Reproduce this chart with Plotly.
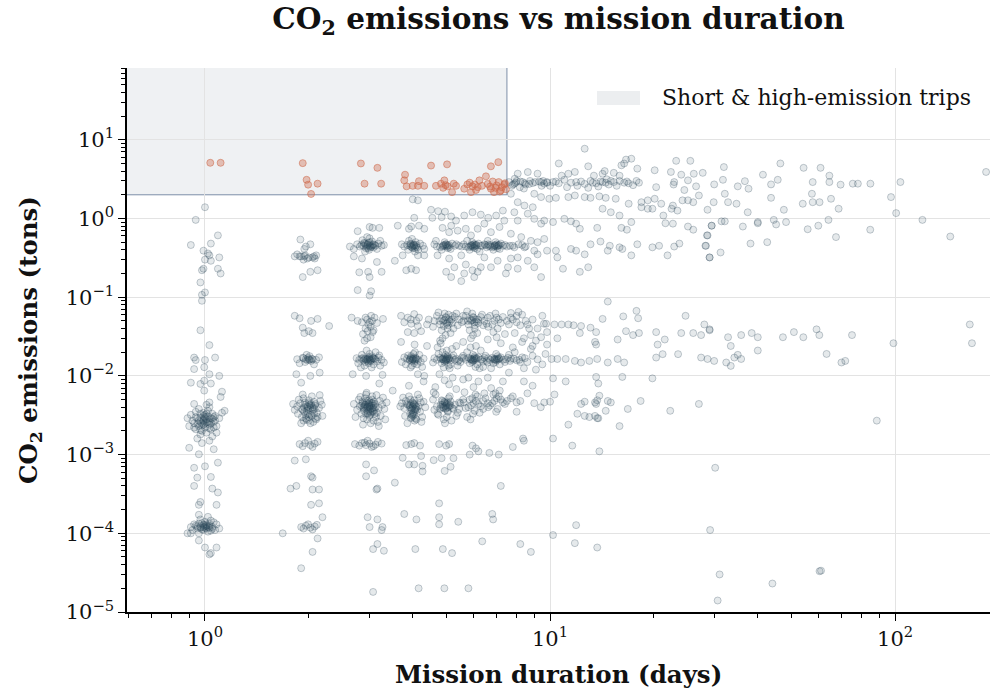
import plotly.graph_objects as go

# ---------------- data (duration in days, CO2 in tons) ----------------
day1 = [
    (1.036, 5.1), (1.11, 5.1),
    (1.00, 1.39), (0.94, 0.96), (1.09, 0.61), (0.91, 0.46), (1.04, 0.48), (0.99, 0.39), (1.02, 0.36),
    (1.03, 0.34), (1.04, 0.29), (1.00, 0.30), (1.10, 0.32), (1.11, 0.20), (1.09, 0.23), (0.98, 0.22),
    (0.99, 0.23), (0.97, 0.154), (1.00, 0.115), (0.98, 0.107), (0.98, 0.090),
    (0.97, 0.038), (1.03, 0.0246), (0.93, 0.0171), (0.94, 0.0159), (1.00, 0.0159), (1.07, 0.0171),
    (0.93, 0.0122), (0.995, 0.0129), (1.03, 0.0105), (1.10, 0.0100), (0.995, 0.0087), (0.97, 0.0079),
    (1.04, 0.0080), (0.91, 0.0082), (1.12, 0.0063), (1.11, 0.0054), (0.995, 0.0065), (1.03, 0.0046),
    (0.93, 0.0044), (1.14, 0.0036),
    (0.97, 2.6e-3), (1.01, 2.8e-3), (0.99, 3.1e-3), (1.03, 2.4e-3), (0.95, 2.9e-3), (1.05, 3.3e-3),
    (0.93, 2.5e-3), (1.00, 2.2e-3), (1.02, 3.6e-3), (0.98, 2.0e-3), (1.07, 2.7e-3), (0.91, 3.2e-3),
    (1.04, 2.1e-3), (0.96, 3.8e-3), (1.08, 2.3e-3), (0.94, 2.1e-3), (1.01, 1.9e-3), (0.99, 3.4e-3),
    (1.06, 3.0e-3), (0.92, 2.7e-3), (1.03, 4.0e-3), (0.97, 1.8e-3), (1.10, 2.9e-3), (0.90, 2.3e-3),
    (1.00, 3.0e-3), (0.98, 2.5e-3), (1.02, 2.6e-3), (1.05, 1.7e-3), (0.95, 1.6e-3), (1.01, 4.3e-3),
    (0.96, 2.3e-3), (1.04, 2.9e-3), (0.99, 2.7e-3), (1.12, 3.4e-3), (0.89, 2.9e-3), (1.03, 1.5e-3),
    (0.97, 3.3e-3), (1.00, 2.5e-3), (1.06, 2.2e-3), (0.94, 3.5e-3), (0.98, 1.4e-3), (1.08, 1.9e-3),
    (0.99, 2.75e-3), (1.01, 2.55e-3), (0.97, 2.95e-3), (1.03, 2.65e-3), (0.95, 2.45e-3), (1.05, 2.85e-3),
    (1.00, 3.2e-3), (0.98, 2.35e-3), (1.02, 3.05e-3), (0.96, 2.7e-3), (1.04, 2.5e-3), (0.94, 3.0e-3),
    (1.06, 2.6e-3), (1.00, 2.9e-3), (0.99, 2.4e-3), (1.01, 3.3e-3), (0.93, 2.2e-3), (1.07, 3.1e-3),
    (0.97, 2.05e-3), (1.03, 2.15e-3),
    (0.90, 1.22e-3), (1.06, 1.17e-3), (0.96, 1.01e-3), (1.09, 7.9e-4), (0.93, 6.8e-4), (1.00, 7.1e-4),
    (0.95, 5.1e-4), (1.04, 5.2e-4), (0.93, 4.0e-4), (1.05, 3.7e-4), (1.09, 3.3e-4), (0.96, 2.3e-4),
    (1.08, 2.3e-4), (0.97, 2.5e-4),
    (0.97, 1.2e-4), (1.01, 1.3e-4), (0.99, 1.1e-4), (1.03, 1.25e-4), (0.95, 1.15e-4), (1.05, 1.2e-4),
    (0.93, 1.3e-4), (1.00, 1.4e-4), (1.02, 1.05e-4), (0.98, 1.35e-4), (1.07, 1.1e-4), (0.91, 1.2e-4),
    (1.04, 1.45e-4), (0.96, 1.0e-4), (1.08, 1.3e-4), (0.94, 1.25e-4), (1.01, 1.15e-4), (0.99, 1.28e-4),
    (1.06, 1.38e-4), (0.92, 1.1e-4), (1.03, 1.18e-4), (0.97, 1.5e-4), (1.10, 1.15e-4), (0.89, 1.0e-4),
    (1.00, 1.22e-4), (1.02, 1.62e-4), (0.96, 1.72e-4),
    (0.99, 1.2e-4), (1.01, 1.24e-4), (0.97, 1.17e-4), (1.03, 1.32e-4), (0.95, 1.22e-4), (1.05, 1.14e-4),
    (1.00, 1.27e-4), (0.98, 1.12e-4), (1.02, 1.2e-4), (0.96, 1.33e-4), (1.04, 1.08e-4), (1.00, 1.17e-4),
    (0.91, 1.0e-4), (0.96, 8.1e-5), (1.00, 6.6e-5), (1.04, 5.6e-5), (1.08, 6.6e-5), (1.03, 5.4e-5),
]

day2 = [
    (1.92, 5.05), (1.97, 3.1), (1.99, 2.69), (2.12, 2.77), (2.03, 2.05),
    (1.89, 0.54), (1.96, 0.44), (2.02, 0.47), (1.94, 0.41), (1.82, 0.33), (1.88, 0.33), (1.94, 0.33),
    (2.07, 0.33), (1.98, 0.31), (2.05, 0.32), (2.08, 0.31), (1.92, 0.18), (2.02, 0.21), (2.12, 0.22),
    (1.90, 0.33), (1.95, 0.34), (2.00, 0.32), (1.85, 0.35), (2.10, 0.34), (1.93, 0.30),
    (1.82, 0.058), (1.88, 0.054), (2.03, 0.050), (2.12, 0.053), (1.92, 0.041), (2.00, 0.037),
    (1.94, 0.035), (2.05, 0.035), (2.29, 0.043),
    (1.85, 0.0163), (1.92, 0.0170), (1.98, 0.0158), (2.04, 0.0165), (2.10, 0.0160), (1.95, 0.0150),
    (2.01, 0.0178), (1.88, 0.0145), (2.14, 0.0172), (1.97, 0.0185), (2.07, 0.0140), (2.00, 0.0163),
    (1.96, 0.0163), (2.01, 0.0160), (1.93, 0.0168), (2.05, 0.0162), (1.99, 0.0170), (2.03, 0.0155),
    (1.84, 0.0105), (2.02, 0.0100), (2.15, 0.0110), (1.90, 0.0082),
    (1.98, 0.0040), (2.03, 0.0042), (1.91, 0.0038), (2.09, 0.0044), (1.85, 0.0041), (2.14, 0.0039),
    (1.95, 0.0046), (2.05, 0.0036), (2.00, 0.0049), (2.18, 0.0043), (1.82, 0.0037), (2.07, 0.0047),
    (1.89, 0.0045), (2.11, 0.0034), (2.01, 0.0032), (1.93, 0.0052), (2.16, 0.0048), (1.87, 0.0050),
    (2.12, 0.0030), (1.97, 0.0028), (2.04, 0.0055), (1.86, 0.0033), (2.19, 0.0031), (2.00, 0.0027),
    (1.80, 0.0044), (1.96, 0.0029), (2.06, 0.0026), (1.92, 0.0058), (2.02, 0.0025), (2.10, 0.0028),
    (1.94, 0.0035), (2.08, 0.0038), (1.99, 0.0033), (1.90, 0.0025), (2.15, 0.0057),
    (1.98, 0.0041), (2.02, 0.0039), (1.95, 0.0043), (2.05, 0.0040), (1.92, 0.0037), (2.08, 0.0042),
    (2.00, 0.0045), (1.97, 0.0036), (2.03, 0.0044), (1.94, 0.0040), (2.06, 0.0038), (1.99, 0.0038),
    (2.01, 0.0043), (1.96, 0.0032), (2.04, 0.0031), (1.91, 0.0030), (2.09, 0.0029), (2.00, 0.0030),
    (1.93, 0.0027), (2.07, 0.0033),
    (1.88, 1.36e-3), (1.95, 1.40e-3), (2.02, 1.32e-3), (2.08, 1.38e-3), (1.92, 1.28e-3), (2.12, 1.45e-3),
    (1.99, 1.50e-3), (2.05, 1.25e-3),
    (1.82, 8.4e-4), (1.96, 8.7e-4), (2.03, 5.3e-4), (2.05, 5.1e-4), (1.84, 4.0e-4), (1.77, 3.7e-4),
    (2.05, 3.6e-4), (2.14, 3.6e-4), (2.14, 2.4e-4), (2.03, 2.3e-4), (2.19, 1.6e-4),
    (1.90, 1.2e-4), (1.96, 1.25e-4), (2.02, 1.18e-4), (2.08, 1.22e-4), (1.99, 1.3e-4), (2.05, 1.12e-4),
    (1.93, 1.15e-4), (2.11, 1.28e-4),
    (1.68, 1.0e-4), (2.12, 8.6e-5), (2.05, 5.8e-5), (1.90, 3.6e-5),
]

day3 = [
    (2.83, 5.0), (3.16, 4.4), (2.90, 2.77), (3.24, 2.77),
    (2.77, 0.69), (3.00, 0.78), (3.06, 0.76), (3.20, 0.76), (2.63, 0.44),
    (2.96, 0.47), (3.02, 0.45), (2.89, 0.49), (3.10, 0.46), (2.81, 0.44), (3.18, 0.48), (2.93, 0.42),
    (3.05, 0.51), (2.99, 0.40), (3.25, 0.45), (2.76, 0.47), (3.08, 0.43), (2.86, 0.53), (3.15, 0.41),
    (3.00, 0.56), (2.91, 0.38), (3.22, 0.52), (2.70, 0.41), (3.30, 0.46), (2.95, 0.58),
    (2.96, 0.46), (3.00, 0.45), (2.92, 0.47), (3.04, 0.44), (2.88, 0.45), (3.08, 0.47), (2.98, 0.49),
    (3.02, 0.43), (2.94, 0.44), (3.06, 0.46), (2.90, 0.48), (3.12, 0.45), (2.84, 0.46), (3.00, 0.50),
    (2.97, 0.42),
    (2.80, 0.207), (2.97, 0.21), (3.25, 0.21), (3.00, 0.18), (2.77, 0.123), (3.03, 0.119), (3.00, 0.105),
    (2.85, 0.31), (3.15, 0.28), (2.70, 0.33),
    (2.66, 0.055), (2.77, 0.050), (2.92, 0.055), (3.03, 0.058), (3.00, 0.048), (3.15, 0.047),
    (2.96, 0.037), (3.06, 0.036), (2.87, 0.034), (3.28, 0.053), (2.95, 0.030), (3.02, 0.031), (2.90, 0.028),
    (2.95, 0.052), (3.05, 0.050), (2.85, 0.048), (3.10, 0.055), (2.98, 0.045), (3.02, 0.042),
    (2.92, 0.040), (3.08, 0.038),
    (2.95, 0.0163), (3.02, 0.0158), (2.88, 0.0170), (3.10, 0.0165), (2.80, 0.0160), (3.18, 0.0172),
    (2.92, 0.0150), (3.05, 0.0178), (2.98, 0.0145), (3.25, 0.0160), (2.75, 0.0168), (3.08, 0.0140),
    (2.85, 0.0185), (3.15, 0.0152), (3.00, 0.0190), (2.90, 0.0135), (3.20, 0.0182), (3.30, 0.0148),
    (2.78, 0.0145), (3.12, 0.0200), (2.94, 0.0210), (3.04, 0.0128), (2.83, 0.0128), (3.22, 0.0135),
    (3.00, 0.0166),
    (2.96, 0.0163), (3.00, 0.0160), (2.92, 0.0166), (3.04, 0.0162), (2.88, 0.0158), (3.08, 0.0167),
    (2.98, 0.0170), (3.02, 0.0155), (2.94, 0.0158), (3.06, 0.0169), (2.90, 0.0164), (3.12, 0.0161),
    (2.84, 0.0166), (3.00, 0.0174), (2.97, 0.0152),
    (2.68, 0.0105), (2.93, 0.0100), (3.27, 0.0103),
    (2.96, 0.0040), (3.03, 0.0042), (2.89, 0.0038), (3.11, 0.0044), (2.81, 0.0041), (3.19, 0.0039),
    (2.93, 0.0046), (3.06, 0.0036), (2.99, 0.0049), (3.26, 0.0043), (2.76, 0.0037), (3.09, 0.0047),
    (2.86, 0.0045), (3.15, 0.0034), (3.01, 0.0032), (2.91, 0.0052), (3.21, 0.0048), (3.31, 0.0038),
    (2.79, 0.0050), (3.13, 0.0030), (2.95, 0.0028), (3.05, 0.0055), (2.84, 0.0033), (3.23, 0.0031),
    (3.00, 0.0043), (2.70, 0.0044), (3.36, 0.0046), (2.97, 0.0035), (3.07, 0.0039), (2.88, 0.0029),
    (3.17, 0.0026), (2.93, 0.0058), (3.02, 0.0025), (2.82, 0.0054), (3.28, 0.0053), (2.99, 0.0041),
    (3.10, 0.0037), (2.90, 0.0043), (3.04, 0.0045), (2.96, 0.0033), (2.73, 0.0030), (3.33, 0.0028),
    (3.14, 0.0057), (2.87, 0.0024), (3.08, 0.0027), (2.94, 0.0061), (3.19, 0.0023),
    (2.96, 0.0041), (3.00, 0.0040), (2.92, 0.0043), (3.04, 0.0039), (2.88, 0.0040), (3.08, 0.0042),
    (2.98, 0.0044), (3.02, 0.0038), (2.94, 0.0039), (3.06, 0.0045), (2.90, 0.0041), (3.12, 0.0040),
    (2.84, 0.0042), (3.00, 0.0046), (2.97, 0.0037), (3.03, 0.0034), (2.93, 0.0033), (3.07, 0.0035),
    (2.89, 0.0036), (3.10, 0.0033), (2.99, 0.0031), (3.01, 0.0035), (2.95, 0.0048), (3.05, 0.0050),
    (2.86, 0.0047),
    (2.72, 1.36e-3), (2.85, 1.40e-3), (2.93, 1.32e-3), (3.00, 1.38e-3), (3.08, 1.28e-3), (3.17, 1.45e-3),
    (2.96, 1.50e-3), (3.04, 1.25e-3), (2.80, 1.30e-3), (3.25, 1.38e-3), (2.90, 1.42e-3), (3.12, 1.34e-3),
    (2.93, 7.5e-4), (3.09, 6.3e-4), (2.93, 5.3e-4), (3.16, 3.7e-4), (3.14, 3.6e-4), (2.96, 1.6e-4),
    (3.16, 1.5e-4), (3.00, 1.2e-4), (3.27, 1.2e-4), (3.25, 1.1e-4), (3.16, 7.3e-5), (3.07, 6.3e-5),
    (3.30, 6.0e-5), (3.07, 1.8e-5),
]

day4 = [
    (3.80, 3.6), (3.78, 3.05), (3.84, 2.56), (4.00, 2.6), (4.17, 2.98), (4.14, 2.6), (4.32, 2.6), (4.52, 4.7),
    (4.14, 1.70), (4.00, 1.75),
    (3.62, 0.81), (3.90, 0.74), (3.96, 0.79), (4.17, 0.81), (4.04, 1.02), (4.32, 0.74),
    (4.04, 0.45), (3.95, 0.47), (4.12, 0.43), (3.85, 0.46), (4.20, 0.48), (3.78, 0.44), (4.08, 0.50),
    (4.00, 0.42), (3.90, 0.52), (4.28, 0.45), (3.72, 0.47), (4.15, 0.40), (3.98, 0.55), (4.06, 0.38),
    (4.32, 0.41), (3.88, 0.40),
    (4.00, 0.45), (3.96, 0.44), (4.04, 0.46), (3.92, 0.45), (4.08, 0.44), (4.02, 0.47), (3.98, 0.43),
    (4.10, 0.46), (3.94, 0.48), (4.06, 0.42),
    (3.83, 0.22), (3.96, 0.23), (4.09, 0.22), (3.74, 0.34), (4.14, 0.34), (4.32, 0.34), (3.55, 0.29),
    (3.70, 0.058), (3.87, 0.055), (4.04, 0.061), (4.17, 0.055), (3.78, 0.048), (3.96, 0.046),
    (4.14, 0.043), (3.87, 0.036), (4.04, 0.035), (4.23, 0.037), (3.95, 0.052), (4.10, 0.050),
    (4.00, 0.0163), (3.92, 0.0158), (4.08, 0.0170), (3.85, 0.0165), (4.15, 0.0160), (3.78, 0.0172),
    (4.22, 0.0150), (3.96, 0.0178), (4.04, 0.0145), (3.88, 0.0182), (4.12, 0.0140), (4.30, 0.0166),
    (3.72, 0.0150), (4.02, 0.0190), (3.98, 0.0135), (4.18, 0.0185), (3.82, 0.0140), (4.06, 0.0200),
    (3.94, 0.0128), (4.26, 0.0130),
    (4.00, 0.0162), (3.96, 0.0166), (4.04, 0.0159), (3.92, 0.0161), (4.08, 0.0165), (4.02, 0.0168),
    (3.98, 0.0156), (4.10, 0.0163), (3.94, 0.0170), (4.06, 0.0154),
    (4.14, 0.0105), (4.32, 0.0100),
    (4.00, 0.0040), (3.92, 0.0042), (4.08, 0.0038), (3.85, 0.0044), (4.15, 0.0041), (3.78, 0.0039),
    (4.22, 0.0046), (3.96, 0.0036), (4.04, 0.0049), (3.88, 0.0043), (4.12, 0.0037), (4.30, 0.0047),
    (3.72, 0.0045), (4.02, 0.0034), (3.98, 0.0032), (4.18, 0.0052), (3.82, 0.0048), (4.06, 0.0038),
    (3.94, 0.0050), (4.26, 0.0030), (4.10, 0.0028), (3.90, 0.0055), (4.00, 0.0033), (3.80, 0.0031),
    (4.20, 0.0035), (4.05, 0.0027), (3.95, 0.0029), (4.35, 0.0040), (3.68, 0.0041), (4.14, 0.0058),
    (3.86, 0.0025), (4.03, 0.0044), (3.99, 0.0046), (4.24, 0.0026), (3.75, 0.0053),
    (4.00, 0.0041), (3.96, 0.0039), (4.04, 0.0043), (3.92, 0.0040), (4.08, 0.0042), (4.02, 0.0045),
    (3.98, 0.0037), (4.10, 0.0040), (3.94, 0.0044), (4.06, 0.0036), (4.00, 0.0031), (3.97, 0.0030),
    (4.03, 0.0032), (3.93, 0.0033), (4.07, 0.0029),
    (3.96, 1.36e-3), (4.04, 1.40e-3), (3.83, 1.32e-3), (4.20, 1.30e-3),
    (3.74, 9.1e-4), (3.90, 7.5e-4), (4.04, 7.5e-4), (4.23, 9.6e-4), (4.27, 7.2e-4), (4.27, 6.1e-4),
    (3.55, 4.4e-4), (3.78, 1.76e-4), (4.10, 1.5e-4), (4.07, 6.3e-5), (4.16, 2.0e-5),
]

day5 = [
    (4.83, 2.77), (4.94, 3.05), (4.67, 2.6), (5.05, 2.56), (5.26, 2.77), (5.20, 2.16), (5.03, 4.87),
    (5.34, 2.6), (4.90, 2.45), (4.98, 2.65),
    (4.52, 1.29), (4.74, 1.24), (4.96, 1.22), (4.56, 1.02), (4.85, 1.04), (5.17, 1.06), (5.34, 0.94),
    (5.17, 0.81), (4.88, 0.76), (5.10, 0.67), (5.40, 0.70), (4.67, 0.52),
    (4.90, 0.45), (5.00, 0.47), (4.80, 0.43), (5.10, 0.46), (4.70, 0.44), (5.20, 0.48), (4.95, 0.50),
    (5.05, 0.42), (4.85, 0.40), (5.30, 0.45), (4.62, 0.47), (5.15, 0.41),
    (4.96, 0.45), (5.02, 0.44), (4.92, 0.46), (5.06, 0.45), (4.88, 0.44), (5.10, 0.43), (4.98, 0.47),
    (5.04, 0.46),
    (4.72, 0.34), (5.10, 0.31), (5.28, 0.24), (5.17, 0.18), (5.00, 0.21),
    (4.90, 0.050), (5.00, 0.055), (4.80, 0.045), (5.10, 0.052), (4.70, 0.058), (5.20, 0.047),
    (4.95, 0.062), (5.05, 0.040), (4.85, 0.038), (5.30, 0.056), (4.62, 0.050), (5.15, 0.035),
    (4.98, 0.033), (5.40, 0.044), (4.75, 0.064), (5.08, 0.060), (4.88, 0.030), (5.25, 0.040),
    (4.58, 0.042), (5.02, 0.046),
    (4.94, 0.051), (5.04, 0.048), (4.86, 0.053), (5.12, 0.049), (4.98, 0.056), (5.18, 0.052),
    (4.78, 0.050), (5.06, 0.044), (4.92, 0.043), (5.22, 0.058),
    (4.90, 0.0163), (5.00, 0.0158), (4.80, 0.0170), (5.10, 0.0165), (4.70, 0.0160), (5.20, 0.0172),
    (4.95, 0.0150), (5.05, 0.0178), (4.85, 0.0145), (5.30, 0.0160), (4.62, 0.0168), (5.15, 0.0140),
    (4.98, 0.0185), (5.40, 0.0152), (4.75, 0.0190), (5.08, 0.0135), (4.88, 0.0200), (5.25, 0.0182),
    (4.58, 0.0148), (5.02, 0.0210), (4.92, 0.0128), (5.12, 0.0125), (4.72, 0.0230), (5.35, 0.0240),
    (4.82, 0.0260),
    (4.96, 0.0162), (5.02, 0.0166), (4.92, 0.0159), (5.06, 0.0161), (4.88, 0.0165), (5.10, 0.0168),
    (4.98, 0.0156), (5.04, 0.0170), (4.84, 0.0163), (5.14, 0.0157), (4.94, 0.0172), (5.00, 0.0164),
    (4.78, 0.0105), (5.22, 0.0095), (4.95, 0.0088), (5.10, 0.0078), (4.65, 0.0072), (5.35, 0.0068),
    (4.90, 0.0040), (5.00, 0.0042), (4.80, 0.0038), (5.10, 0.0044), (4.70, 0.0041), (5.20, 0.0039),
    (4.95, 0.0046), (5.05, 0.0036), (4.85, 0.0049), (5.30, 0.0043), (4.62, 0.0037), (5.15, 0.0047),
    (4.98, 0.0045), (5.40, 0.0034), (4.75, 0.0032), (5.08, 0.0052), (4.88, 0.0048), (5.25, 0.0038),
    (4.58, 0.0050), (5.02, 0.0030), (4.92, 0.0028), (5.12, 0.0055), (4.72, 0.0033), (5.35, 0.0031),
    (4.82, 0.0043), (5.18, 0.0027), (4.96, 0.0025), (5.45, 0.0046), (4.66, 0.0058), (5.06, 0.0035),
    (4.96, 0.0041), (5.02, 0.0044), (4.92, 0.0039), (5.06, 0.0040), (4.88, 0.0043), (5.10, 0.0041),
    (4.98, 0.0038), (5.04, 0.0046), (4.84, 0.0040), (5.14, 0.0042), (4.94, 0.0047), (5.00, 0.0039),
    (4.77, 1.36e-3), (5.10, 1.36e-3), (5.00, 1.30e-3),
    (4.85, 9.0e-4), (4.60, 8.5e-4), (5.25, 9.0e-4), (4.95, 6.2e-4), (5.15, 7.0e-4),
    (4.77, 2.4e-4), (4.77, 1.6e-4), (4.77, 1.3e-4), (4.89, 6.3e-5), (5.20, 5.6e-5), (4.94, 2.0e-5),
    (5.42, 1.4e-4),
]

day6 = [
    (5.76, 2.71), (5.64, 2.39), (5.96, 2.56), (6.24, 3.05), (6.52, 3.43), (6.17, 2.5), (5.90, 2.16),
    (6.05, 2.7), (5.85, 2.85), (6.35, 2.6), (6.10, 2.3),
    (5.64, 1.09), (5.96, 1.20), (6.30, 1.12), (6.45, 0.86), (6.17, 0.74), (5.70, 0.74), (5.90, 0.61),
    (5.90, 0.45), (6.00, 0.47), (5.80, 0.43), (6.10, 0.46), (5.70, 0.44), (6.20, 0.48), (5.95, 0.50),
    (6.05, 0.42), (5.85, 0.40), (6.30, 0.45), (5.62, 0.47), (6.15, 0.41), (5.75, 0.52), (6.25, 0.38),
    (5.96, 0.45), (6.02, 0.44), (5.92, 0.46), (6.06, 0.45), (5.88, 0.44), (6.12, 0.46), (5.98, 0.43),
    (6.04, 0.47),
    (5.53, 0.34), (5.70, 0.26), (5.96, 0.22), (6.30, 0.24), (6.45, 0.32), (5.64, 0.20), (6.17, 0.21),
    (5.53, 0.16), (6.03, 0.18),
    (5.90, 0.050), (6.00, 0.055), (5.80, 0.045), (6.10, 0.052), (5.70, 0.058), (6.20, 0.047),
    (5.95, 0.062), (6.05, 0.040), (5.85, 0.038), (6.30, 0.056), (5.62, 0.050), (6.15, 0.035),
    (5.98, 0.033), (6.40, 0.044), (5.75, 0.066),
    (5.94, 0.051), (6.04, 0.048), (5.86, 0.053), (6.12, 0.049), (5.98, 0.056), (6.18, 0.052),
    (5.78, 0.050), (6.06, 0.044),
    (5.90, 0.0163), (6.00, 0.0158), (5.80, 0.0170), (6.10, 0.0165), (5.70, 0.0160), (6.20, 0.0172),
    (5.95, 0.0150), (6.05, 0.0178), (5.85, 0.0145), (6.30, 0.0160), (5.62, 0.0168), (6.15, 0.0140),
    (5.98, 0.0185), (6.40, 0.0152), (5.75, 0.0200), (6.08, 0.0130), (5.88, 0.0230), (6.25, 0.0125),
    (5.96, 0.0162), (6.02, 0.0166), (5.92, 0.0159), (6.06, 0.0161), (5.88, 0.0165), (6.12, 0.0168),
    (5.98, 0.0156), (6.04, 0.0170),
    (5.80, 0.0095), (6.20, 0.0085), (6.00, 0.0072), (5.65, 0.0062),
    (5.90, 0.0042), (6.00, 0.0045), (5.80, 0.0040), (6.10, 0.0048), (5.70, 0.0039), (6.20, 0.0044),
    (5.95, 0.0052), (6.05, 0.0036), (5.85, 0.0050), (6.30, 0.0041), (5.62, 0.0046), (6.15, 0.0055),
    (5.98, 0.0033), (6.40, 0.0038), (5.75, 0.0030), (6.08, 0.0058), (5.88, 0.0028), (6.25, 0.0034),
    (5.96, 1.3e-3), (6.10, 1.2e-3), (6.20, 1.1e-3), (5.85, 1.0e-3), (6.36, 7.9e-5), (5.80, 2.0e-5),
]

day7 = [
    (6.74, 4.6), (7.08, 5.2), (6.74, 2.39), (7.00, 2.63), (7.20, 2.27), (7.37, 2.71), (6.88, 2.16),
    (6.60, 2.75), (7.10, 2.9), (7.25, 2.5), (6.95, 2.45), (7.45, 2.35), (6.82, 2.95), (7.15, 2.2),
    (7.40, 2.8), (6.70, 2.55),
    (6.62, 1.02), (6.98, 1.09), (7.30, 1.26), (7.37, 0.94), (6.74, 0.67), (7.14, 0.78), (6.60, 0.52),
    (6.90, 0.45), (7.00, 0.47), (6.80, 0.43), (7.10, 0.46), (6.70, 0.44), (7.20, 0.48), (6.95, 0.50),
    (7.05, 0.42), (6.85, 0.40), (7.30, 0.45), (6.62, 0.47), (7.15, 0.41),
    (6.96, 0.45), (7.02, 0.44), (6.92, 0.46), (7.06, 0.45), (6.88, 0.44), (7.12, 0.46),
    (6.74, 0.24), (7.05, 0.29), (7.45, 0.20),
    (6.90, 0.050), (7.00, 0.055), (6.80, 0.045), (7.10, 0.052), (6.70, 0.058), (7.20, 0.047),
    (6.95, 0.062), (7.05, 0.040), (6.85, 0.036), (7.30, 0.056), (6.62, 0.042), (7.40, 0.034),
    (6.90, 0.0163), (7.00, 0.0158), (6.80, 0.0170), (7.10, 0.0165), (6.70, 0.0160), (7.20, 0.0172),
    (6.95, 0.0150), (7.05, 0.0178), (6.85, 0.0145), (7.30, 0.0160), (6.62, 0.0168), (7.15, 0.0140),
    (6.98, 0.0190), (7.40, 0.0150), (6.75, 0.0125),
    (6.96, 0.0162), (7.02, 0.0166), (6.92, 0.0159), (7.06, 0.0161), (6.88, 0.0165), (7.12, 0.0168),
    (6.90, 0.0048), (7.00, 0.0052), (6.80, 0.0045), (7.10, 0.0055), (6.70, 0.0042), (7.20, 0.0050),
    (6.95, 0.0060), (7.05, 0.0038), (6.85, 0.0058), (7.30, 0.0046), (6.62, 0.0040), (7.15, 0.0065),
    (6.98, 0.0035), (7.40, 0.0044), (6.75, 0.0070),
    (6.67, 1.05e-3), (7.10, 1.0e-3), (7.20, 4.0e-4), (6.80, 1.76e-4), (6.84, 1.5e-4),
]

# trips whose durations fall between whole days (mid-week spread)
multi_day_spread = [
    (5.35, 0.0165), (5.45, 0.0158), (5.55, 0.0170), (5.50, 0.0150), (5.60, 0.0180), (6.35, 0.0163),
    (6.45, 0.0170), (6.55, 0.0155), (6.50, 0.0180), (6.60, 0.0148), (7.45, 0.0162), (7.55, 0.0170),
    (7.65, 0.0155), (7.85, 0.0165), (8.15, 0.0160), (8.45, 0.0168), (8.20, 0.0150), (7.60, 0.0185),
    (5.40, 0.0135), (6.40, 0.0130),
    (4.05, 0.025), (4.80, 0.028), (5.20, 0.022), (5.60, 0.027), (6.10, 0.024), (6.60, 0.029),
    (7.20, 0.026), (7.80, 0.023), (8.30, 0.027), (8.90, 0.024), (5.90, 0.030), (4.40, 0.024),
    (3.70, 0.027), (7.00, 0.031), (6.30, 0.021),
    (5.45, 0.052), (5.55, 0.048), (5.60, 0.058), (6.45, 0.050), (6.55, 0.046), (6.60, 0.055),
    (7.50, 0.050), (7.60, 0.045), (7.80, 0.052), (8.00, 0.058), (8.20, 0.044), (8.50, 0.050),
    (5.35, 0.062), (6.35, 0.060), (7.70, 0.063), (4.45, 0.052), (4.40, 0.045),
    (6.35, 0.45), (6.45, 0.47), (6.55, 0.43), (6.50, 0.46), (6.62, 0.45), (6.70, 0.46), (5.45, 0.45),
    (5.55, 0.44), (7.40, 0.46), (7.50, 0.44), (7.65, 0.45), (5.35, 0.47),
    (5.50, 0.0045), (5.60, 0.0050), (6.40, 0.0048), (6.50, 0.0052), (6.60, 0.0045), (7.50, 0.0048),
    (7.70, 0.0052), (8.00, 0.0046), (5.45, 0.0038), (6.45, 0.0060),
    (3.20, 0.0080), (3.90, 0.0075), (4.30, 0.0085), (5.60, 0.0090), (6.60, 0.0095), (7.30, 0.0085),
    (7.60, 0.0110), (3.50, 0.0065), (4.60, 0.0062),
]

week2 = [
    (7.88, 2.77), (8.17, 2.5), (8.33, 2.9), (8.91, 2.82), (9.62, 2.77), (8.06, 3.71), (8.62, 3.89),
    (9.20, 3.71), (9.00, 2.06), (9.42, 1.87), (7.70, 2.06), (7.60, 2.9), (7.75, 2.6), (8.00, 3.0),
    (8.50, 2.7), (8.75, 3.0), (9.30, 2.95), (9.45, 2.6), (9.80, 2.9), (7.90, 3.2), (8.40, 2.4),
    (7.95, 2.85), (8.20, 2.95), (8.45, 2.8), (8.70, 2.75), (9.05, 2.9), (9.55, 3.0), (7.80, 2.7),
    (8.06, 1.61), (8.43, 1.46), (8.91, 1.39), (7.88, 1.20), (8.62, 1.15), (8.06, 0.94), (9.00, 0.99),
    (9.42, 0.86), (7.70, 0.64), (8.25, 0.58), (8.80, 0.52), (9.20, 0.50), (9.62, 0.55), (7.88, 0.43),
    (8.43, 0.43), (9.00, 0.39), (9.80, 0.39), (7.70, 0.31), (8.06, 0.32), (8.62, 0.29), (9.20, 0.35),
    (7.55, 0.24), (8.06, 0.23), (9.00, 0.24), (9.42, 0.18),
    (7.80, 0.45), (8.10, 0.47), (8.50, 0.44), (8.30, 0.46),
    (7.70, 0.055), (8.00, 0.048), (8.30, 0.060), (8.60, 0.045), (8.90, 0.052), (9.20, 0.040),
    (9.50, 0.058), (7.90, 0.035), (8.40, 0.030), (8.80, 0.033), (9.10, 0.028), (9.60, 0.046),
    (8.10, 0.065), (8.70, 0.040), (9.80, 0.036),
    (7.70, 0.0165), (8.00, 0.0158), (8.30, 0.0172), (8.60, 0.0150), (8.90, 0.0180), (9.20, 0.0162),
    (9.50, 0.0140), (7.90, 0.0200), (8.40, 0.0125), (8.80, 0.0220), (9.10, 0.0120), (9.70, 0.0190),
    (7.80, 0.0055), (8.20, 0.0048), (8.60, 0.0060), (9.00, 0.0045), (8.00, 0.0035), (8.90, 0.0075),
    (9.40, 0.0040), (8.40, 0.0085),
    (8.35, 1.6e-3), (8.40, 1.5e-3), (7.80, 1.25e-3), (8.20, 7.3e-5), (8.80, 5.8e-5),
]

long_trips = [
    (12.6, 7.7), (10.6, 5.0), (12.9, 4.6), (16.1, 4.74), (16.6, 5.6), (17.2, 5.75), (16.4, 5.0),
    (17.9, 4.3), (23.2, 5.4), (25.5, 5.4), (20.1, 4.1), (22.4, 3.9), (24.0, 3.6), (26.1, 3.7),
    (27.7, 3.8), (31.9, 4.5), (41.4, 3.6), (46.5, 5.0), (54.3, 4.4), (60.8, 4.4), (64.5, 3.5),
    (183.5, 3.9),
    (20.3, 2.5), (22.8, 2.7), (22.9, 2.9), (24.5, 2.3), (25.1, 3.05), (26.5, 2.56), (29.9, 2.71),
    (31.7, 3.1), (35.0, 2.56), (36.7, 2.98), (37.6, 2.39), (43.7, 2.71), (45.7, 3.1), (57.7, 2.9),
    (64.5, 2.9), (69.5, 2.69), (75.4, 2.77), (78.0, 2.77), (84.8, 2.77), (103.6, 2.9),
    (97.3, 1.87), (100.7, 1.17), (120.0, 0.96), (144.5, 0.59), (84.7, 0.72), (67.4, 0.58), (64.1, 0.96),
    (59.9, 0.81), (55.8, 0.73), (68.6, 1.33), (65.2, 1.78), (60.4, 1.61), (57.7, 1.61), (54.0, 1.54),
    (57.4, 2.06), (47.6, 1.29), (48.3, 0.9), (44.5, 0.96), (45.2, 0.84), (43.7, 1.83), (40.0, 0.9),
    (36.2, 0.79), (38.1, 0.48), (42.6, 0.5), (31.4, 0.92), (32.1, 0.92), (29.4, 0.81), (31.2, 0.37),
    (29.0, 0.32), (28.3, 0.45), (28.5, 0.61),
    (14.2, 1.33), (15.0, 1.20), (15.9, 1.09), (16.9, 1.54), (18.4, 1.61), (19.2, 1.70), (20.1, 1.78),
    (21.0, 1.54), (18.4, 1.39), (19.2, 1.33), (19.8, 1.33), (11.8, 1.96), (12.6, 1.87), (13.1, 1.83),
    (13.9, 1.91), (14.5, 1.83), (15.5, 1.78), (11.3, 1.87), (10.4, 1.83), (9.95, 1.78), (22.7, 1.46),
    (22.5, 1.33), (21.3, 1.09), (21.6, 0.87), (22.7, 0.86), (23.4, 1.26), (24.2, 1.70), (25.1, 1.70),
    (26.0, 1.61), (27.0, 1.96), (28.6, 1.29), (29.8, 1.61), (32.1, 2.06), (32.8, 1.61), (34.7, 1.54),
    (37.4, 1.20), (40.0, 0.87), (9.62, 0.94), (10.2, 0.90), (11.0, 0.99), (11.5, 0.92), (11.9, 0.86),
    (12.2, 0.74), (13.7, 0.76), (16.1, 0.76), (16.7, 0.72), (17.2, 0.90), (10.4, 0.39), (10.5, 0.32),
    (10.9, 0.23), (11.5, 0.41), (11.9, 0.39), (12.2, 0.21), (12.6, 0.35), (12.9, 0.24), (13.1, 0.47),
    (14.0, 0.51), (14.7, 0.39), (14.9, 0.45), (15.9, 0.43), (16.2, 0.41), (17.2, 0.34), (17.9, 0.47),
    (19.8, 0.43), (20.7, 0.45), (21.9, 0.34), (22.9, 0.44), (23.7, 0.48), (25.1, 0.79), (26.0, 0.72),
    (28.2, 0.45), (28.6, 0.61), (29.0, 0.32), (29.4, 0.81),
    (9.42, 2.9), (9.8, 2.85), (10.2, 2.9), (10.6, 2.8), (11.0, 3.1), (11.5, 2.85), (11.9, 2.9),
    (12.6, 2.75), (13.1, 3.0), (13.6, 2.8), (14.2, 2.9), (14.6, 3.15), (14.8, 2.7), (15.3, 2.9),
    (15.9, 3.0), (16.4, 2.85), (16.9, 2.8), (17.8, 3.0), (18.1, 2.85), (10.8, 3.5), (11.3, 3.7),
    (11.8, 3.9), (14.2, 3.7), (14.4, 4.0), (15.3, 3.8), (15.9, 3.5), (13.4, 3.5), (12.0, 2.6),
    (13.8, 2.55), (15.6, 2.6), (17.4, 2.65), (10.0, 2.6), (11.2, 2.5), (12.9, 2.45),
    (10.4, 2.95), (12.3, 2.95), (13.3, 2.85), (14.0, 2.95), (14.5, 2.85), (15.0, 3.0), (16.7, 2.95),
    (14.7, 0.088), (17.8, 0.067), (18.0, 0.054), (16.3, 0.057), (14.2, 0.053), (24.7, 0.058),
    (28.0, 0.045), (29.0, 0.038), (9.74, 0.046), (10.3, 0.045), (10.8, 0.045), (11.3, 0.045),
    (11.7, 0.044), (12.3, 0.043), (9.42, 0.031), (9.8, 0.025), (10.5, 0.030), (12.2, 0.035),
    (13.1, 0.041), (13.6, 0.036), (13.5, 0.027), (13.6, 0.025), (15.7, 0.029), (16.6, 0.037),
    (17.4, 0.033), (18.1, 0.035), (20.3, 0.036), (20.5, 0.025), (21.5, 0.029), (24.0, 0.035),
    (26.0, 0.035), (27.4, 0.033), (29.0, 0.039), (32.8, 0.031), (35.8, 0.033), (38.4, 0.035),
    (40.0, 0.031), (47.3, 0.031), (50.9, 0.036), (54.2, 0.031), (59.2, 0.039), (60.3, 0.033),
    (75.0, 0.033), (33.4, 0.024), (40.0, 0.021), (35.0, 0.0185), (164.6, 0.045), (167.0, 0.026),
    (98.9, 0.026), (63.3, 0.019), (69.9, 0.0148), (71.7, 0.0155),
    (10.1, 0.0164), (10.5, 0.0164), (11.1, 0.0164), (11.8, 0.0155), (12.3, 0.0148), (13.0, 0.0155),
    (13.7, 0.0164), (14.7, 0.0148), (15.7, 0.0164), (16.4, 0.0148), (20.3, 0.0171), (21.2, 0.0189),
    (23.5, 0.0189), (27.4, 0.0171), (28.6, 0.0164), (29.9, 0.0155), (32.4, 0.0148), (34.2, 0.0171),
    (35.8, 0.0164), (33.4, 0.0134),
    (10.2, 0.0093), (11.1, 0.0085), (13.6, 0.0097), (13.8, 0.0080), (16.2, 0.0097), (19.8, 0.0093),
    (10.3, 0.0058), (9.62, 0.0046), (10.0, 0.0047), (12.3, 0.0044), (12.6, 0.0047), (13.5, 0.0046),
    (13.7, 0.0049), (13.6, 0.0044), (13.9, 0.0056), (14.7, 0.0048), (15.0, 0.0046), (18.3, 0.0048),
    (27.0, 0.0044), (12.0, 0.0033), (12.6, 0.0031), (13.0, 0.0030), (13.5, 0.0031), (13.7, 0.0029),
    (13.8, 0.0029), (14.5, 0.0036), (16.8, 0.0038), (22.3, 0.0036), (11.3, 0.0024), (15.9, 0.0023),
    (10.2, 0.0016), (11.6, 0.0013), (13.9, 0.0011), (88.5, 0.0027), (30.1, 0.00068),
    (11.9, 1.27e-4), (11.8, 7.5e-5), (10.2, 9.5e-5), (13.7, 6.6e-5), (29.1, 1.1e-4), (31.0, 3.0e-5),
    (30.6, 1.4e-5), (44.1, 2.3e-5), (60.4, 3.3e-5), (61.0, 3.35e-5),
]

# highlight rule: short (< 7.5 days) and high-emission (> 2 t) trips
short_max_days = 7.5
high_min_tons = 2.0

x_tick_vals = [1, 10, 100]
x_tick_text = ["10<sup>0</sup>", "10<sup>1</sup>", "10<sup>2</sup>"]
y_tick_vals = [1e-5, 1e-4, 1e-3, 1e-2, 1e-1, 1, 10]
y_tick_text = ["10<sup>\u22125</sup>", "10<sup>\u22124</sup>", "10<sup>\u22123</sup>",
               "10<sup>\u22122</sup>", "10<sup>\u22121</sup>", "10<sup>0</sup>", "10<sup>1</sup>"]

# ---------------- build ----------------
all_pts = day1 + day2 + day3 + day4 + day5 + day6 + day7 + multi_day_spread + week2 + long_trips
is_hi = [(d < short_max_days and c > high_min_tons) for d, c in all_pts]
gx = [p[0] for p, h in zip(all_pts, is_hi) if not h]
gy = [p[1] for p, h in zip(all_pts, is_hi) if not h]
hx = [p[0] for p, h in zip(all_pts, is_hi) if h]
hy = [p[1] for p, h in zip(all_pts, is_hi) if h]

SERIF = "DejaVu Serif"
slate = "44,72,88"
orange = "205,105,75"

fig = go.Figure()
fig.add_trace(go.Scatter(
    x=gx, y=gy, mode="markers", showlegend=False, hoverinfo="skip",
    marker=dict(size=7, color=f"rgba({slate},0.12)", line=dict(color=f"rgba({slate},0.27)", width=1)),
))
fig.add_trace(go.Scatter(
    x=hx, y=hy, mode="markers", showlegend=False, hoverinfo="skip",
    marker=dict(size=7, color=f"rgba({orange},0.38)", line=dict(color=f"rgba({orange},0.55)", width=1)),
))

x_range = [-0.226, 2.275]
y_range = [-5, 1.912]

fig.add_shape(type="rect", xref="x", yref="y", x0=0.3, x1=short_max_days, y0=high_min_tons, y1=500,
              fillcolor="#eff1f3", line=dict(color="#7d8ea8", width=1), layer="below")

minor_vals = [m * 10 ** e for e in range(-6, 4) for m in range(2, 10)]
axis_common = dict(
    type="log", showline=True, linecolor="black", linewidth=1.5, mirror=False,
    ticks="outside", ticklen=7, tickwidth=1.2, tickcolor="black",
    showgrid=True, gridcolor="#e3e3e3", gridwidth=1, zeroline=False,
    tickfont=dict(family=SERIF, size=21, color="#111"),
    minor=dict(tickvals=minor_vals, ticks="outside", ticklen=4, tickwidth=1, tickcolor="black", showgrid=False),
)
fig.update_xaxes(range=x_range, tickmode="array", tickvals=x_tick_vals, ticktext=x_tick_text, **axis_common)
fig.update_yaxes(range=y_range, tickmode="array", tickvals=y_tick_vals, ticktext=y_tick_text, **axis_common)

# legend (drawn manually, paper coordinates)
fig.add_shape(type="rect", xref="paper", yref="paper", x0=0.5446, x1=0.5944, y0=0.932, y1=0.9577,
              fillcolor="#eceef0", line=dict(width=0))
fig.add_annotation(xref="paper", yref="paper", x=0.6176, y=0.9449, xanchor="left", yanchor="middle",
                   text="Short &amp; high-emission trips", showarrow=False,
                   font=dict(family=SERIF, size=22, color="#111"))

fig.add_annotation(xref="paper", yref="paper", x=0.5, y=-0.1158, xanchor="center", yanchor="middle",
                   text="<b>Mission duration (days)</b>", showarrow=False,
                   font=dict(family=SERIF, size=24.5, color="#111"))
fig.add_annotation(xref="paper", yref="paper", x=-0.1124, y=0.5, xanchor="center", yanchor="middle",
                   text="<b>CO<sub>2</sub> emissions (tons)</b>", textangle=-90, showarrow=False,
                   font=dict(family=SERIF, size=24.5, color="#111"))

fig.update_layout(
    width=990, height=690,
    margin=dict(l=127, r=0, t=68, b=78),
    paper_bgcolor="white", plot_bgcolor="white",
    title=dict(text="<b>CO<sub>2</sub> emissions vs mission duration</b>", x=0.5, xref="paper",
               y=0.988, yref="container", yanchor="top", pad=dict(t=0, b=0),
               font=dict(family=SERIF, size=29.5, color="#111")),
    showlegend=False,
)

# remove the default 8 px page margin so the 990x690 figure fills the window exactly
fig.write_html("out.html", config={"displayModeBar": False},
               post_script="document.body.style.margin='0';")
